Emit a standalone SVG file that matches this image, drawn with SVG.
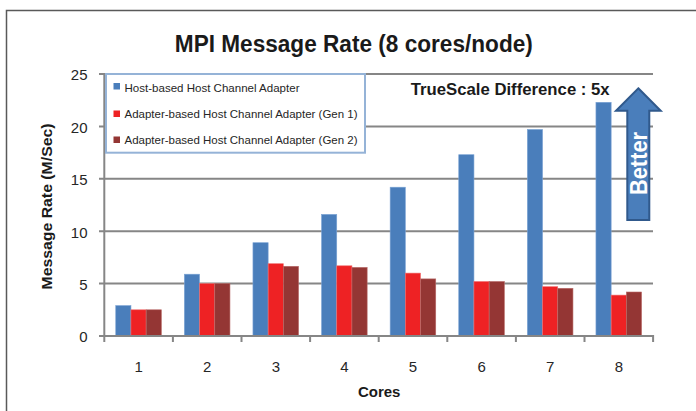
<svg xmlns="http://www.w3.org/2000/svg" width="696" height="411" viewBox="0 0 696 411">
<style>
.grid{stroke:#868686;stroke-width:2;fill:none}
.axis{stroke:#868686;stroke-width:2;fill:none}
.b1{fill:#4a7ebb;stroke:#7ba3d4;stroke-width:0.6}
.b2{fill:#ee2224;stroke:#f07070;stroke-width:0.6}
.b3{fill:#943634;stroke:#b86a68;stroke-width:0.6}
.t{font-family:"Liberation Sans",Arial,sans-serif;fill:#1a1a1a}
.tick{font-size:15px;fill:#262626}
.xl{font-size:15px;text-anchor:middle;fill:#262626}
.bold{font-weight:bold}
.leg{font-size:11.5px;fill:#262626}
</style>
<rect x="6.5" y="10.5" width="700" height="410" fill="#fff" stroke="#595959" stroke-width="1.5"/>
<g id="title"><text class="t bold" x="353.8" y="51.7" font-size="23.5" text-anchor="middle" textLength="358" lengthAdjust="spacingAndGlyphs">MPI Message Rate (8 cores/node)</text></g>
<g id="gridlines">
<line class="grid" x1="99" y1="74" x2="653" y2="74"/>
<line class="grid" x1="99" y1="126.4" x2="653" y2="126.4"/>
<line class="grid" x1="99" y1="178.8" x2="653" y2="178.8"/>
<line class="grid" x1="99" y1="231.2" x2="653" y2="231.2"/>
<line class="grid" x1="99" y1="283.6" x2="653" y2="283.6"/>
</g>
<g id="bars">
<rect class="b1" x="115.75" y="305.6" width="15.2" height="30.4"/>
<rect class="b2" x="130.95" y="309.8" width="15.2" height="26.2"/>
<rect class="b3" x="146.15" y="309.8" width="15.2" height="26.2"/>
<rect class="b1" x="184.35" y="274.2" width="15.2" height="61.8"/>
<rect class="b2" x="199.55" y="283.6" width="15.2" height="52.4"/>
<rect class="b3" x="214.75" y="283.6" width="15.2" height="52.4"/>
<rect class="b1" x="252.95" y="242.7" width="15.2" height="93.3"/>
<rect class="b2" x="268.15" y="263.7" width="15.2" height="72.3"/>
<rect class="b3" x="283.35" y="266.3" width="15.2" height="69.7"/>
<rect class="b1" x="321.55" y="214.4" width="15.2" height="121.6"/>
<rect class="b2" x="336.75" y="265.8" width="15.2" height="70.2"/>
<rect class="b3" x="351.95" y="267.4" width="15.2" height="68.6"/>
<rect class="b1" x="390.15" y="187.2" width="15.2" height="148.8"/>
<rect class="b2" x="405.35" y="273.1" width="15.2" height="62.9"/>
<rect class="b3" x="420.55" y="278.9" width="15.2" height="57.1"/>
<rect class="b1" x="458.75" y="154.7" width="15.2" height="181.3"/>
<rect class="b2" x="473.95" y="281.5" width="15.2" height="54.5"/>
<rect class="b3" x="489.15" y="281.5" width="15.2" height="54.5"/>
<rect class="b1" x="527.35" y="129.5" width="15.2" height="206.5"/>
<rect class="b2" x="542.55" y="286.7" width="15.2" height="49.3"/>
<rect class="b3" x="557.75" y="288.3" width="15.2" height="47.7"/>
<rect class="b1" x="595.95" y="102.3" width="15.2" height="233.7"/>
<rect class="b2" x="611.15" y="295.1" width="15.2" height="40.9"/>
<rect class="b3" x="626.35" y="292" width="15.2" height="44"/>
</g>
<g id="axes">
<line class="axis" x1="104.3" y1="73" x2="104.3" y2="342"/>
<line class="axis" x1="99" y1="336" x2="653.5" y2="336"/>
<path class="axis" d="M172.9 336V342M241.5 336V342M310.1 336V342M378.7 336V342M447.3 336V342M515.9 336V342M584.5 336V342M653.1 335V342"/>
</g>
<g id="y-labels" class="t tick" text-anchor="end">
<text x="87.5" y="80.3">25</text>
<text x="87.5" y="132.7">20</text>
<text x="87.5" y="185.1">15</text>
<text x="87.5" y="237.5">10</text>
<text x="87.5" y="289.9">5</text>
<text x="87.5" y="342">0</text>
</g>
<g id="x-labels" class="t">
<text class="xl" x="138.6" y="372">1</text>
<text class="xl" x="207.2" y="372">2</text>
<text class="xl" x="275.8" y="372">3</text>
<text class="xl" x="344.4" y="372">4</text>
<text class="xl" x="413" y="372">5</text>
<text class="xl" x="481.6" y="372">6</text>
<text class="xl" x="550.2" y="372">7</text>
<text class="xl" x="618.8" y="372">8</text>
</g>
<g id="axis-titles">
<text class="t bold" x="379.2" y="396.7" font-size="15" text-anchor="middle">Cores</text>
<text class="t bold" transform="translate(52 206.5) rotate(-90)" x="0" y="0" font-size="15" text-anchor="middle" textLength="166" lengthAdjust="spacingAndGlyphs">Message Rate (M/Sec)</text>
</g>
<g id="legend">
<rect x="106" y="74" width="259" height="78.7" fill="#fff" stroke="#95b3d7" stroke-width="2"/>
<rect x="113.5" y="83" width="6.5" height="6.5" fill="#4a7ebb"/>
<rect x="113.5" y="110.5" width="6.5" height="6.5" fill="#ee2224"/>
<rect x="113.5" y="136.5" width="6.5" height="6.5" fill="#943634"/>
<text class="t leg" x="124.5" y="91.7" textLength="175" lengthAdjust="spacingAndGlyphs">Host-based Host Channel Adapter</text>
<text class="t leg" x="124.5" y="117.7" textLength="233" lengthAdjust="spacingAndGlyphs">Adapter-based Host Channel Adapter (Gen 1)</text>
<text class="t leg" x="124.5" y="143.5" textLength="233" lengthAdjust="spacingAndGlyphs">Adapter-based Host Channel Adapter (Gen 2)</text>
</g>
<g id="difference-note">
<text class="t bold" x="410.7" y="95" font-size="17" textLength="199" lengthAdjust="spacingAndGlyphs">TrueScale Difference : 5x</text>
</g>
<g id="better-arrow">
<polygon points="638.3,88.3 660.7,110.7 649.3,110.7 649.3,220 627.3,220 627.3,110.7 616,110.7" fill="#4a7ebb" stroke="#30598c" stroke-width="2" stroke-linejoin="miter"/>
<text class="bold" transform="translate(646.5 163.5) rotate(-90)" x="0" y="0" font-family="Liberation Sans, Arial, sans-serif" font-size="23" fill="#fff" text-anchor="middle" textLength="63" lengthAdjust="spacingAndGlyphs">Better</text>
</g>
</svg>
